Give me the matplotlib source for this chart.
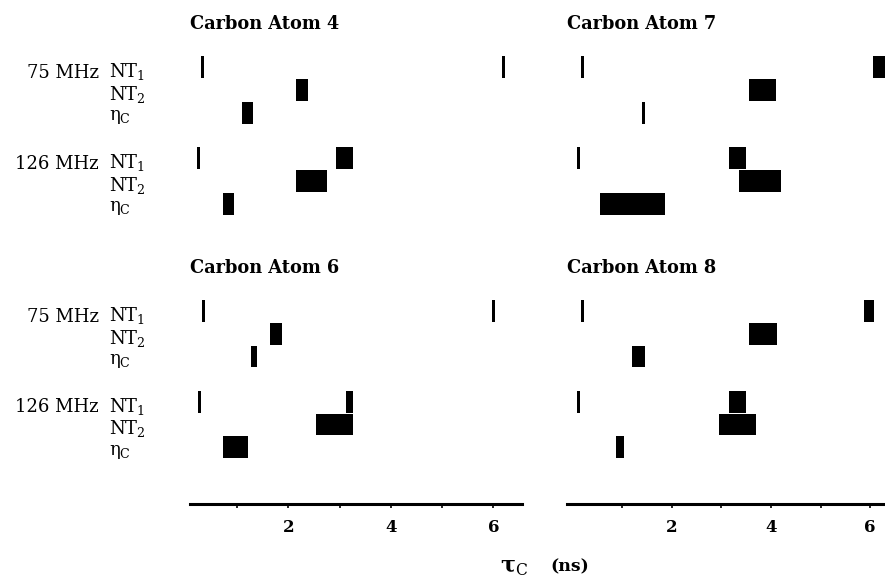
import matplotlib
matplotlib.use("Agg")
import matplotlib.pyplot as plt
from matplotlib.transforms import blended_transform_factory

plt.rcParams["font.family"] = "DejaVu Serif"
plt.rcParams["mathtext.fontset"] = "custom"
plt.rcParams["mathtext.rm"] = "DejaVu Serif"
plt.rcParams["mathtext.it"] = "DejaVu Serif:italic"
plt.rcParams["mathtext.bf"] = "DejaVu Serif:bold"

# tau_c ranges (ns), one list of (start, end) per row
# row order: 75 MHz NT1, NT2, eta_c, 126 MHz NT1, NT2, eta_c
atom4 = [
    [(0.30, 0.36), (6.17, 6.23)],
    [(2.14, 2.38)],
    [(1.09, 1.30)],
    [(0.22, 0.28), (2.93, 3.26)],
    [(2.14, 2.76)],
    [(0.72, 0.94)],
]
atom7 = [
    [(0.18, 0.24), (6.06, 6.29)],
    [(3.56, 4.10)],
    [(1.40, 1.46)],
    [(0.09, 0.15), (3.16, 3.49)],
    [(3.36, 4.20)],
    [(0.55, 1.86)],
]
atom6 = [
    [(0.31, 0.37), (5.97, 6.03)],
    [(1.65, 1.88)],
    [(1.27, 1.39)],
    [(0.24, 0.30), (3.13, 3.26)],
    [(2.54, 3.26)],
    [(0.72, 1.21)],
]
atom8 = [
    [(0.18, 0.24), (5.88, 6.08)],
    [(3.56, 4.12)],
    [(1.21, 1.46)],
    [(0.09, 0.15), (3.16, 3.50)],
    [(2.95, 3.69)],
    [(0.88, 1.04)],
]

titles = ["Carbon Atom 4", "Carbon Atom 7", "Carbon Atom 6", "Carbon Atom 8"]
freq_labels = ["75 MHz", "126 MHz"]
param_labels = ["NT$_\\mathrm{1}$", "NT$_\\mathrm{2}$", "η$_\\mathrm{C}$"]
row_pos = [0, 1, 2, 4, 5, 6]
tick_values = [1, 2, 3, 4, 5, 6]
tick_labels = ["", "2", "", "4", "", "6"]

W, H = 885, 582
fig = plt.figure(figsize=(W / 100, H / 100), dpi=100)


def rect(x0, x1, y0, y1):
    return [x0 / W, 1 - y1 / H, (x1 - x0) / W, (y1 - y0) / H]


# pixel boxes of the panels and x ranges that match them
cols = [(190, 522, 0.08, 6.56), (567, 885, -0.11, 6.30)]
rows_px = [(56, 215, 6.5), (300, 504, 8.52)]
panels = [atom4, atom7, atom6, atom8]

axes = []
for i, data in enumerate(panels):
    r, c = divmod(i, 2)
    x0, x1, xmin, xmax = cols[c]
    y0, y1, ymax = rows_px[r]
    ax = fig.add_axes(rect(x0, x1, y0, y1))
    for pos, intervals in zip(row_pos, data):
        ax.broken_barh([(a, b - a) for a, b in intervals], (pos - 0.48, 0.96),
                       facecolors="black")
    ax.set_xlim(xmin, xmax)
    ax.set_ylim(ymax, -0.5)
    ax.set_yticks([])
    for s in ["top", "left", "right"]:
        ax.spines[s].set_visible(False)
    if r == 0:
        ax.spines["bottom"].set_visible(False)
        ax.set_xticks([])
    else:
        ax.spines["bottom"].set_linewidth(2.2)
        ax.set_xticks(tick_values)
        ax.set_xticklabels(tick_labels, fontweight="bold", fontsize=12)
        ax.tick_params(axis="x", direction="out", length=3, width=1.2, pad=8)
    fig.text(x0 / W, 1 - (y0 - 32) / H, titles[i], fontsize=12.8,
             fontweight="bold", ha="left", va="center")
    axes.append(ax)

# row labels on the left panels
for ax in (axes[0], axes[2]):
    tr = blended_transform_factory(fig.transFigure, ax.transData)
    for g in range(2):
        base = row_pos[g * 3]
        ax.text(99 / W, base + 0.25, freq_labels[g], transform=tr,
                ha="right", va="center", fontsize=13)
        for k in range(3):
            ax.text(109 / W, row_pos[g * 3 + k] + 0.2, param_labels[k],
                    transform=tr, ha="left", va="center", fontsize=13)

fig.text(500 / W, 1 - 567 / H, "τ$_\\mathrm{C}$", fontsize=16,
         fontweight="bold", ha="left", va="center")
fig.text(550 / W, 1 - 567 / H, "(ns)", fontsize=12.5,
         fontweight="bold", ha="left", va="center")

fig.savefig("out.png", dpi=100)
